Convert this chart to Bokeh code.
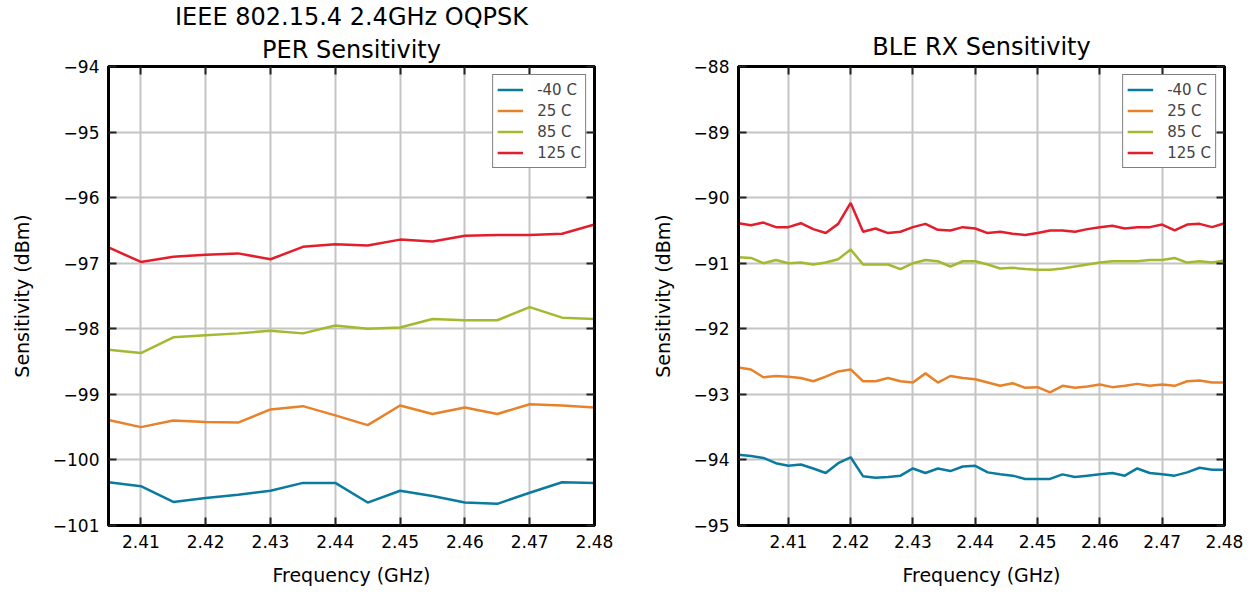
from bokeh.plotting import figure
from bokeh.layouts import row
from bokeh.models import (Title, Legend, LegendItem, FixedTicker, LinearAxis,
                          Range1d, CustomJSTickFormatter)
from bokeh.embed import file_html
from bokeh.resources import INLINE

# ---------------- data ----------------
freq_154 = [2.405, 2.410, 2.415, 2.420, 2.425, 2.430, 2.435, 2.440,
            2.445, 2.450, 2.455, 2.460, 2.465, 2.470, 2.475, 2.480]
per_m40 = [-100.34, -100.40, -100.64, -100.58, -100.53, -100.47, -100.35, -100.35,
           -100.65, -100.47, -100.55, -100.65, -100.67, -100.50, -100.34, -100.35]
per_25 = [-99.39, -99.50, -99.40, -99.42, -99.43, -99.23, -99.18, -99.32,
          -99.47, -99.17, -99.30, -99.20, -99.30, -99.15, -99.17, -99.20]
per_85 = [-98.32, -98.37, -98.13, -98.10, -98.07, -98.03, -98.07, -97.95,
          -98.00, -97.98, -97.85, -97.87, -97.87, -97.67, -97.83, -97.85]
per_125 = [-96.76, -96.98, -96.90, -96.87, -96.85, -96.94, -96.75, -96.71,
           -96.73, -96.64, -96.67, -96.58, -96.57, -96.57, -96.55, -96.41]

freq_ble = [2.402, 2.404, 2.406, 2.408, 2.410, 2.412, 2.414, 2.416, 2.418, 2.420,
            2.422, 2.424, 2.426, 2.428, 2.430, 2.432, 2.434, 2.436, 2.438, 2.440,
            2.442, 2.444, 2.446, 2.448, 2.450, 2.452, 2.454, 2.456, 2.458, 2.460,
            2.462, 2.464, 2.466, 2.468, 2.470, 2.472, 2.474, 2.476, 2.478, 2.480]
ble_m40 = [-93.92, -93.94, -93.97, -94.05, -94.09, -94.07, -94.13, -94.20, -94.05, -93.96,
           -94.25, -94.27, -94.26, -94.24, -94.13, -94.20, -94.13, -94.17, -94.10, -94.09,
           -94.19, -94.22, -94.24, -94.29, -94.29, -94.29, -94.22, -94.26, -94.24, -94.22,
           -94.20, -94.24, -94.13, -94.20, -94.22, -94.24, -94.19, -94.12, -94.15, -94.15]
ble_25 = [-92.59, -92.62, -92.74, -92.72, -92.73, -92.75, -92.80, -92.73, -92.65, -92.62,
          -92.80, -92.80, -92.75, -92.80, -92.82, -92.68, -92.82, -92.72, -92.75, -92.77,
          -92.82, -92.87, -92.83, -92.90, -92.89, -92.97, -92.87, -92.90, -92.88, -92.85,
          -92.89, -92.87, -92.84, -92.87, -92.85, -92.87, -92.80, -92.79, -92.82, -92.82]
ble_85 = [-90.91, -90.92, -91.00, -90.95, -91.00, -90.99, -91.02, -90.99, -90.94, -90.79,
          -91.02, -91.02, -91.02, -91.09, -91.00, -90.95, -90.97, -91.05, -90.97, -90.97,
          -91.02, -91.08, -91.07, -91.09, -91.10, -91.10, -91.08, -91.05, -91.02, -90.99,
          -90.97, -90.97, -90.97, -90.95, -90.95, -90.92, -90.99, -90.97, -90.99, -90.96]
ble_125 = [-90.39, -90.42, -90.38, -90.45, -90.45, -90.39, -90.48, -90.54, -90.40, -90.08,
           -90.52, -90.47, -90.54, -90.52, -90.45, -90.40, -90.49, -90.50, -90.45, -90.47,
           -90.54, -90.52, -90.55, -90.57, -90.54, -90.50, -90.50, -90.52, -90.48, -90.45,
           -90.43, -90.47, -90.45, -90.45, -90.41, -90.50, -90.41, -90.40, -90.45, -90.39]

series_labels = ["-40 C", "25 C", "85 C", "125 C"]
colors = ["#0A7B9E", "#E8822A", "#A2BA30", "#E21E2C"]
x_ticks = [2.41, 2.42, 2.43, 2.44, 2.45, 2.46, 2.47, 2.48]
y_ticks_154 = [-101, -100, -99, -98, -97, -96, -95, -94]
y_ticks_ble = [-95, -94, -93, -92, -91, -90, -89, -88]
# title lines listed from the frame outward
title_154 = ["PER Sensitivity", "IEEE 802.15.4 2.4GHz OQPSK"]
title_ble = ["BLE RX Sensitivity"]

FONT = "DejaVu Sans"

yfmt = CustomJSTickFormatter(code="return (tick < 0 ? '\\u2212' : '') + Math.abs(tick).toFixed(0);")
xfmt = CustomJSTickFormatter(code="return tick.toFixed(2);")


def style_axis(ax, ticks, fmt, labels=True):
    ax.ticker = FixedTicker(ticks=ticks)
    ax.axis_line_color = "black"
    ax.axis_line_width = 3
    ax.major_tick_in = 8
    ax.major_tick_out = 0
    ax.major_tick_line_color = "#222222"
    ax.major_tick_line_width = 2
    ax.minor_tick_line_color = None
    if labels:
        ax.formatter = fmt
        ax.major_label_text_font = FONT
        ax.major_label_text_font_size = "17px"
        ax.major_label_text_color = "black"
        ax.major_label_standoff = 9
        ax.axis_label_text_font = FONT
        ax.axis_label_text_font_size = "19px"
        ax.axis_label_text_font_style = "normal"
        ax.axis_label_text_color = "black"
    else:
        ax.formatter = CustomJSTickFormatter(code="return '';")
        ax.major_label_standoff = 0


def make_plot(xs, ys_list, xr, yr, yticks, titles, standoffs, bl, br):
    p = figure(width=bl + 486 + br, height=591, output_backend="svg", toolbar_location=None,
               x_range=Range1d(*xr), y_range=Range1d(*yr),
               min_border_left=bl, min_border_right=br,
               min_border_top=66, min_border_bottom=66)
    p.outline_line_color = "black"
    p.outline_line_width = 3
    style_axis(p.xaxis[0], x_ticks, xfmt)
    style_axis(p.yaxis[0], yticks, yfmt)
    p.xaxis[0].axis_label = "Frequency (GHz)"
    p.yaxis[0].axis_label = "Sensitivity (dBm)"
    p.xaxis[0].axis_label_standoff = 13
    p.yaxis[0].axis_label_standoff = 17
    top = LinearAxis()
    right = LinearAxis()
    style_axis(top, x_ticks, None, labels=False)
    style_axis(right, yticks, None, labels=False)
    p.add_layout(top, "above")
    p.add_layout(right, "right")
    for t, s in zip(titles, standoffs):
        p.add_layout(Title(text=t, align="center", text_font=FONT, text_font_size="24px",
                           text_font_style="normal", text_color="black", standoff=s), "above")
    p.xgrid.ticker = FixedTicker(ticks=x_ticks)
    p.ygrid.ticker = FixedTicker(ticks=yticks)
    for g in (p.xgrid[0], p.ygrid[0]):
        g.grid_line_color = "#c4c4c4"
        g.grid_line_width = 2
    items = []
    for ys, lab, col in zip(ys_list, series_labels, colors):
        r = p.line(xs, ys, line_color=col, line_width=2.5)
        items.append(LegendItem(label=lab, renderers=[r]))
    leg = Legend(items=items, location="top_right", border_line_color="black",
                 border_line_width=1.5, label_text_font=FONT, label_text_font_size="15px",
                 glyph_width=26, glyph_height=21, label_height=21, spacing=0,
                 padding=4, margin=8, label_standoff=14, background_fill_alpha=1)
    p.add_layout(leg)
    return p


p1 = make_plot(freq_154, [per_m40, per_25, per_85, per_125], (2.405, 2.48), (-101, -94),
               y_ticks_154, title_154, [6, 0], 108, 34)
p2 = make_plot(freq_ble, [ble_m40, ble_25, ble_85, ble_125], (2.402, 2.48), (-95, -88),
               y_ticks_ble, title_ble, [11], 110, 24)

layout = row(p1, p2)
open("out.html", "w").write(file_html(layout, INLINE))
